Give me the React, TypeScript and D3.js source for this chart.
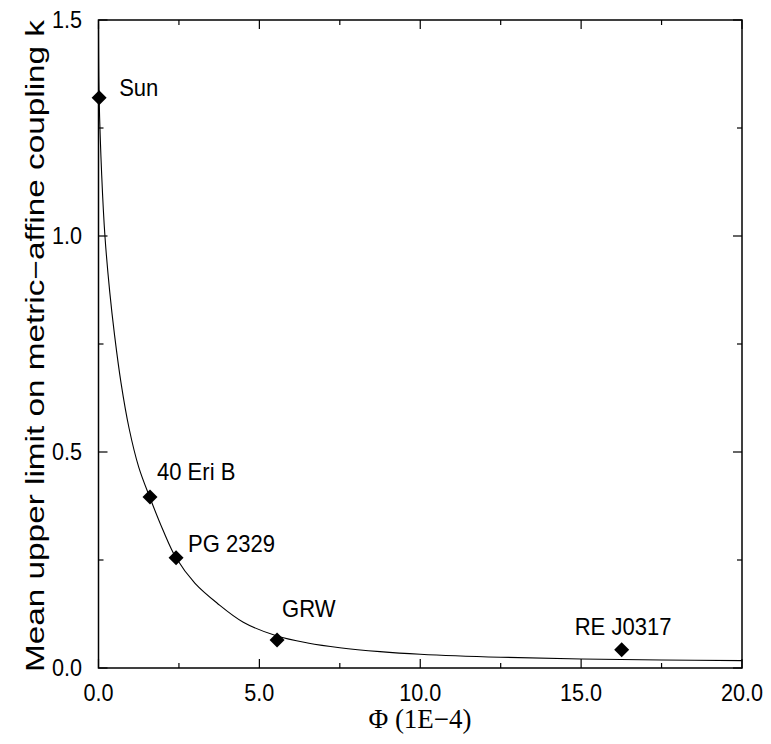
import React from "react";
import * as d3 from "d3";

const names = ["Sun", "40 Eri B", "PG 2329", "GRW", "RE J0317"];
const phi = [0.02, 1.6, 2.41, 5.55, 16.26];
const kLimit = [1.32, 0.396, 0.255, 0.065, 0.042];
const labelDx = [20, 7, 12, 5, -47];
const labelDy = [-2, -17, -6, -23, -15];

const curvePhi = [0, 0.02, 0.1, 0.2, 0.35, 0.5, 0.7, 0.95, 1.25, 1.6, 2.0, 2.41, 3.0, 3.69, 4.5, 5.55, 6.5, 7.5, 8.75, 10, 12.5, 15, 17.5, 20];
const curveK = [1.49, 1.32, 1.14, 1.0, 0.87, 0.77, 0.66, 0.555, 0.465, 0.394, 0.32, 0.255, 0.196, 0.15, 0.106, 0.074, 0.058, 0.047, 0.038, 0.032, 0.025, 0.021, 0.0185, 0.017];

const xMajor = [0, 5, 10, 15, 20];
const xMinor = [2.5, 7.5, 12.5, 17.5];
const yMajor = [0, 0.5, 1.0, 1.5];
const yMinor = [0.25, 0.75, 1.25];

export default function App() {
  const W = 771, H = 744;
  const L = 98.5, R = 742, T = 20, B = 668;
  const x = d3.scaleLinear().domain([0, 20]).range([L, R]);
  const y = d3.scaleLinear().domain([0, 1.5]).range([B, T]);
  const line = d3.line<number>().x((d, i) => x(curvePhi[i])).y((d) => y(d)).curve(d3.curveCatmullRom.alpha(0.5));
  const sans = "'Liberation Sans', Arial, sans-serif";
  const sq = (px: number) => `translate(${px},0) scale(0.9,1) translate(${-px},0)`;
  const dia = "M0,-7.5L7.5,0L0,7.5L-7.5,0Z";
  return (
    <svg width={W} height={H} style={{ position: "absolute", left: 0, top: 0 }}>
      <rect width={W} height={H} fill="#fff" />
      <path d={line(curveK) || ""} fill="none" stroke="#000" strokeWidth={1.1} />
      <rect x={L} y={T} width={R - L} height={B - T} fill="none" stroke="#000" strokeWidth={1.5} />
      {xMajor.map((v) => (
        <g key={"xm" + v}>
          <line x1={x(v)} x2={x(v)} y1={B} y2={B - 9} stroke="#000" strokeWidth={1.2} />
          <line x1={x(v)} x2={x(v)} y1={T} y2={T + 9} stroke="#000" strokeWidth={1.2} />
          <text x={x(v)} y={701} textAnchor="middle" fontFamily={sans} fontSize={24} transform={sq(x(v))}>{v.toFixed(1)}</text>
        </g>
      ))}
      {xMinor.map((v) => (
        <g key={"xn" + v}>
          <line x1={x(v)} x2={x(v)} y1={B} y2={B - 5} stroke="#000" strokeWidth={1.2} />
          <line x1={x(v)} x2={x(v)} y1={T} y2={T + 5} stroke="#000" strokeWidth={1.2} />
        </g>
      ))}
      {yMajor.map((v) => (
        <g key={"ym" + v}>
          <line x1={L} x2={L + 9} y1={y(v)} y2={y(v)} stroke="#000" strokeWidth={1.2} />
          <line x1={R} x2={R - 9} y1={y(v)} y2={y(v)} stroke="#000" strokeWidth={1.2} />
          <text x={82} y={y(v) + 8.5} textAnchor="end" fontFamily={sans} fontSize={24} transform={sq(82)}>{v.toFixed(1)}</text>
        </g>
      ))}
      {yMinor.map((v) => (
        <g key={"yn" + v}>
          <line x1={L} x2={L + 5} y1={y(v)} y2={y(v)} stroke="#000" strokeWidth={1.2} />
          <line x1={R} x2={R - 5} y1={y(v)} y2={y(v)} stroke="#000" strokeWidth={1.2} />
        </g>
      ))}
      {phi.map((p, i) => (
        <g key={names[i]}>
          <path d={dia} transform={`translate(${x(p)},${y(kLimit[i])})`} fill="#000" />
          <text x={x(p) + labelDx[i]} y={y(kLimit[i]) + labelDy[i]} fontFamily={sans} fontSize={24.5} transform={sq(x(p) + labelDx[i])}>{names[i]}</text>
        </g>
      ))}
      <text x={420} y={728} textAnchor="middle" fontFamily="'Liberation Serif', 'Times New Roman', serif" fontSize={27}>Φ (1E−4)</text>
      <text transform={`translate(44,346) rotate(-90)`} textAnchor="middle" fontFamily={sans} fontSize={25} textLength={652} lengthAdjust="spacingAndGlyphs">Mean upper limit on metric−affine coupling k</text>
    </svg>
  );
}
